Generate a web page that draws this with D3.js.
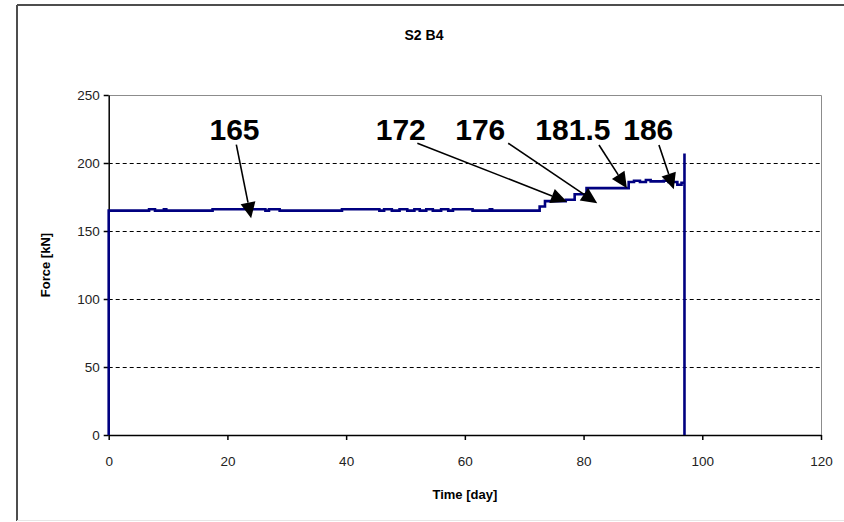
<!DOCTYPE html>
<html><head><meta charset="utf-8">
<script src="https://cdn.jsdelivr.net/npm/d3@7"></script>
<style>
html,body{margin:0;padding:0;background:#fff;}
svg{display:block;font-family:Arial,"Liberation Sans",sans-serif;}
</style></head>
<body>
<svg id="chart" width="844" height="522"></svg>
<script>
// ---- data ----
const chartTitle = "S2 B4";
const xTitle = "Time [day]";
const yTitle = "Force [kN]";
const xTicks = [0, 20, 40, 60, 80, 100, 120];
const yTicks = [0, 50, 100, 150, 200, 250];
const days = [0, 0, 6.8, 7.8, 9.3, 9.7, 17.5, 26.4, 27.0, 28.8, 39.3, 45.6, 46.4, 47.7, 49.0, 50.3, 51.5, 52.4, 53.5, 54.6, 56.0, 57.2, 58.0, 61.3, 64.2, 64.6, 72.6, 73.5, 77.0, 78.5, 80.5, 87.6, 88.5, 89.5, 90.5, 91.3, 93.5, 94.3, 95.8, 96.5, 97.0, 97.0];
const forces = [0, 165, 166, 165, 166, 165, 166, 165, 166, 165, 166, 165, 166, 165, 166, 165, 166, 165, 166, 165, 166, 165, 166, 165, 166, 165, 168, 172, 173, 177, 181.5, 186, 187, 186, 187.5, 186.5, 187, 186, 184, 185.5, 207, 0];
// annotations: label, label day, arrow start (day, force), arrow tip (day, force)
const annLabels = ["165", "172", "176", "181.5", "186"];
const annTextDay = [21.2, 49.2, 62.6, 78.2, 90.9];
const annStartDay = [21.5, 52.0, 67.3, 82.6, 92.7];
const annStartForce = [213.5, 214.5, 214.5, 213.2, 213.2];
const annTipDay = [24.0, 77.2, 82.3, 87.3, 95.2];
const annTipForce = [159.3, 171.5, 170.4, 181.4, 180.7];
const annTextForce = 216.9;

// ---- layout ----
const svg = d3.select("#chart");
const W = 844, H = 522;
const plot = {left: 108.7, right: 821, top: 95, bottom: 435};
const x = d3.scaleLinear().domain([0, 120]).range([plot.left, plot.right]);
const y = d3.scaleLinear().domain([0, 250]).range([plot.bottom, plot.top]);

// outer border
svg.append("line").attr("x1", 17).attr("x2", W).attr("y1", 5).attr("y2", 5)
  .attr("stroke", "#4d4d4d").attr("stroke-width", 2);
svg.append("line").attr("x1", 17).attr("x2", 17).attr("y1", 5).attr("y2", 521)
  .attr("stroke", "#4d4d4d").attr("stroke-width", 2);
svg.append("line").attr("x1", 17).attr("x2", W).attr("y1", 520.5).attr("y2", 520.5)
  .attr("stroke", "#e6e6e6").attr("stroke-width", 1);

// title
svg.append("text").attr("x", 424).attr("y", 40).attr("text-anchor", "middle")
  .attr("font-size", 14).attr("font-weight", "bold").text(chartTitle);

// plot frame (top/right gray)
svg.append("path")
  .attr("d", `M${plot.left},${plot.top + 0.5}H${plot.right + 0.5}V${plot.bottom}`)
  .attr("fill", "none").attr("stroke", "#8c8c8c").attr("stroke-width", 1);

// gridlines
svg.append("g").selectAll("line").data(yTicks.filter(v => v > 0 && v < 250)).join("line")
  .attr("x1", plot.left).attr("x2", plot.right)
  .attr("y1", d => Math.round(y(d)) + 0.5).attr("y2", d => Math.round(y(d)) + 0.5)
  .attr("stroke", "#000").attr("stroke-width", 1).attr("stroke-dasharray", "4,3");

// axes
const yAxis = d3.axisLeft(y).tickValues(yTicks).tickSize(5).tickSizeOuter(0).tickPadding(4);
const gy = svg.append("g").attr("transform", `translate(${plot.left},0)`).call(yAxis);
const xAxis = d3.axisBottom(x).tickValues(xTicks).tickSize(5).tickSizeOuter(0).tickPadding(16);
const gx = svg.append("g").attr("transform", `translate(0,${plot.bottom})`).call(xAxis);
[gx, gy].forEach(g => {
  g.select(".domain").attr("stroke", "#000").attr("stroke-width", 1.5);
  g.selectAll(".tick line").attr("stroke", "#000").attr("stroke-width", 1.5);
  g.selectAll(".tick text").attr("font-size", 13.5).attr("fill", "#222")
    .attr("font-family", "Arial, 'Liberation Sans', sans-serif");
});

// axis titles
svg.append("text").attr("x", (plot.left + plot.right) / 2).attr("y", 499)
  .attr("text-anchor", "middle").attr("font-size", 13).attr("font-weight", "bold").text(xTitle);
svg.append("text").attr("transform", `translate(50,${(plot.top + plot.bottom) / 2}) rotate(-90)`)
  .attr("text-anchor", "middle").attr("font-size", 13).attr("font-weight", "bold").text(yTitle);

// data line
const pts = days.map((d, i) => [d, forces[i]]);
const line = d3.line().x(d => x(d[0])).y(d => y(d[1])).curve(d3.curveStepAfter);
svg.append("path").attr("d", line(pts)).attr("fill", "none")
  .attr("stroke", "#000080").attr("stroke-width", 2.6).attr("stroke-linejoin", "miter");

// annotations
const ann = svg.append("g");
annLabels.forEach((lab, i) => {
  ann.append("text").attr("x", x(annTextDay[i])).attr("y", y(annTextForce))
    .attr("text-anchor", "middle").attr("font-size", 30).attr("font-weight", "bold")
    .attr("fill", "#000").text(lab);
  const x0 = x(annStartDay[i]), y0 = y(annStartForce[i]);
  const x1 = x(annTipDay[i]), y1 = y(annTipForce[i]);
  const dx = x1 - x0, dy = y1 - y0, L = Math.hypot(dx, dy);
  const ux = dx / L, uy = dy / L;
  const len = 16, hw = 7.5;
  const bx = x1 - ux * len, by = y1 - uy * len;
  ann.append("line").attr("x1", x0).attr("y1", y0).attr("x2", bx).attr("y2", by)
    .attr("stroke", "#000").attr("stroke-width", 1.6);
  ann.append("path")
    .attr("d", `M${x1},${y1}L${bx - uy * hw},${by + ux * hw}L${bx + uy * hw},${by - ux * hw}Z`)
    .attr("fill", "#000");
});
</script>
</body></html>
